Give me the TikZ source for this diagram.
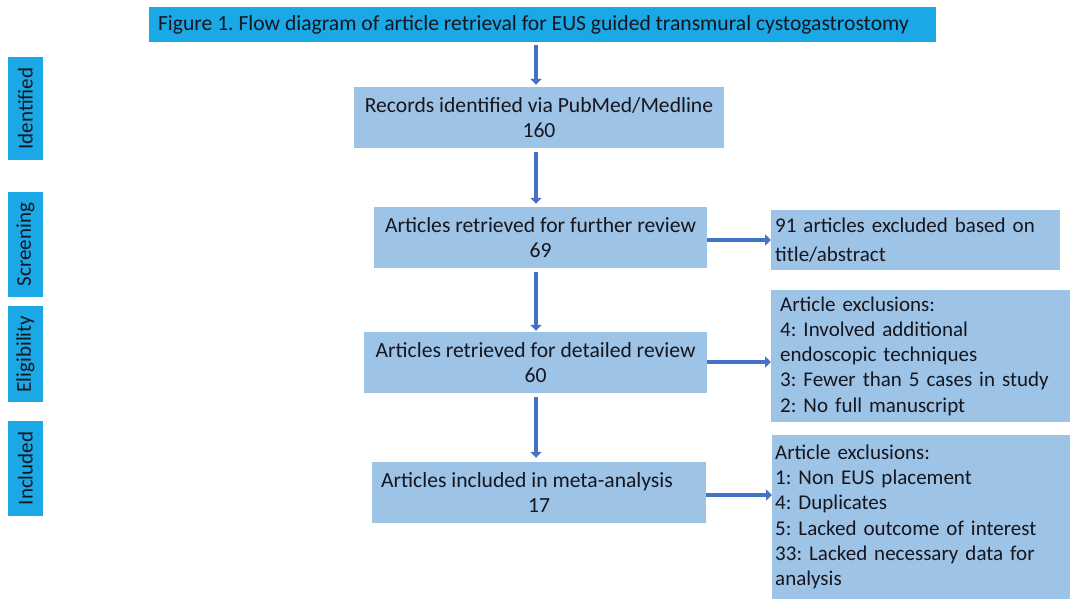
\documentclass[tikz,border=0pt]{standalone}
\usepackage{fontspec}
\setmainfont{Carlito}
\usetikzlibrary{arrows.meta}
\definecolor{boxblue}{RGB}{157,195,230}
\definecolor{titlecyan}{RGB}{26,168,230}
\definecolor{arrowblue}{RGB}{68,114,196}
\definecolor{txt}{RGB}{22,22,30}
\tikzset{
  mainbox/.style={fill=boxblue, draw=none, align=center, text=txt, inner sep=0pt,
    minimum height=61pt, font=\fontsize{21.6}{25}\selectfont},
  sidebox/.style={fill=boxblue, draw=none, align=left, text=txt, anchor=west,
    inner ysep=0pt, font=\fontsize{21}{25.3}\selectfont},
  stagelabel/.style={fill=titlecyan, draw=none, rotate=90, text=txt, inner sep=0pt,
    minimum height=35pt, font=\fontsize{21}{24}\selectfont},
  arr/.style={draw=arrowblue, line width=4.5pt, -{Triangle[width=11pt,length=6pt]},
    arrowblue},
}
\begin{document}
\frenchspacing
\begin{tikzpicture}[x=1pt,y=-1pt]
\useasboundingbox[fill=white] (0,0) rectangle (1070,599);

% title
\node[fill=titlecyan, text=txt, minimum width=787pt, minimum height=35pt, inner sep=0pt,
  font=\fontsize{21.6}{24}\selectfont] (title) at (542.5,24.5)
  {\makebox[787pt][l]{\hspace{9pt}Figure 1. Flow diagram of article retrieval for EUS guided transmural cystogastrostomy}};

% stage labels
\node[stagelabel, minimum width=103pt] (lid) at (25.5,108.5) {Identified};
\node[stagelabel, minimum width=105pt] (lsc) at (25.5,244.5) {Screening};
\node[stagelabel, minimum width=96pt] (lel) at (25.5,354) {Eligibility};
\node[stagelabel, minimum width=95pt] (lin) at (25.5,468.5) {Included};

% main boxes
\node[mainbox, minimum width=370pt] (rec) at (539,117.5) {Records identified via PubMed/Medline\\160};
\node[mainbox, minimum width=333pt] (fur) at (540.5,237.5) {Articles retrieved for further review\\69};
\node[mainbox, minimum width=343pt] (det) at (535.5,362.5) {Articles retrieved for detailed review\\60};
\node[mainbox, minimum width=334pt] (meta) at (539,492.5) {\mbox{Articles included in meta-analysis\kern24pt}\\17};

% side boxes
\node[sidebox, font=\fontsize{21}{29}\selectfont, minimum height=60pt, text width=281pt, inner xsep=4pt]
  (ex0) at (771,240) {91 articles excluded based on\\title/abstract};
\node[sidebox, minimum height=132pt, text width=281pt, inner xsep=9pt]
  (ex1) at (771,356) {Article exclusions:\\4: Involved additional\\endoscopic techniques\\3: Fewer than 5 cases in study\\2: No full manuscript};
\node[sidebox, minimum height=164pt, text width=292pt, inner xsep=3pt]
  (ex2) at (772,517) {Article exclusions:\\1: Non EUS placement\\4: Duplicates\\5: Lacked outcome of interest\\33: Lacked necessary data for\\analysis};

% vertical arrows
\draw[arr, shorten <=3pt, shorten >=2pt] (title.south -| 536,0) -- (rec.north -| 536,0);
\draw[arr, shorten <=4pt, shorten >=3pt] (rec.south -| 536,0) -- (fur.north -| 536,0);
\draw[arr, shorten <=4pt, shorten >=1pt] (fur.south -| 536,0) -- (det.north -| 536,0);
\draw[arr, shorten <=4pt, shorten >=4pt] (det.south -| 536,0) -- (meta.north -| 536,0);

% horizontal arrows
\draw[arr, line width=4pt] (fur.east |- 0,240) -- (ex0.west |- 0,240);
\draw[arr, line width=4pt] (det.east |- 0,362) -- (ex1.west |- 0,362);
\draw[arr, line width=4pt] (meta.east |- 0,495) -- (ex2.west |- 0,495);
\end{tikzpicture}
\end{document}
